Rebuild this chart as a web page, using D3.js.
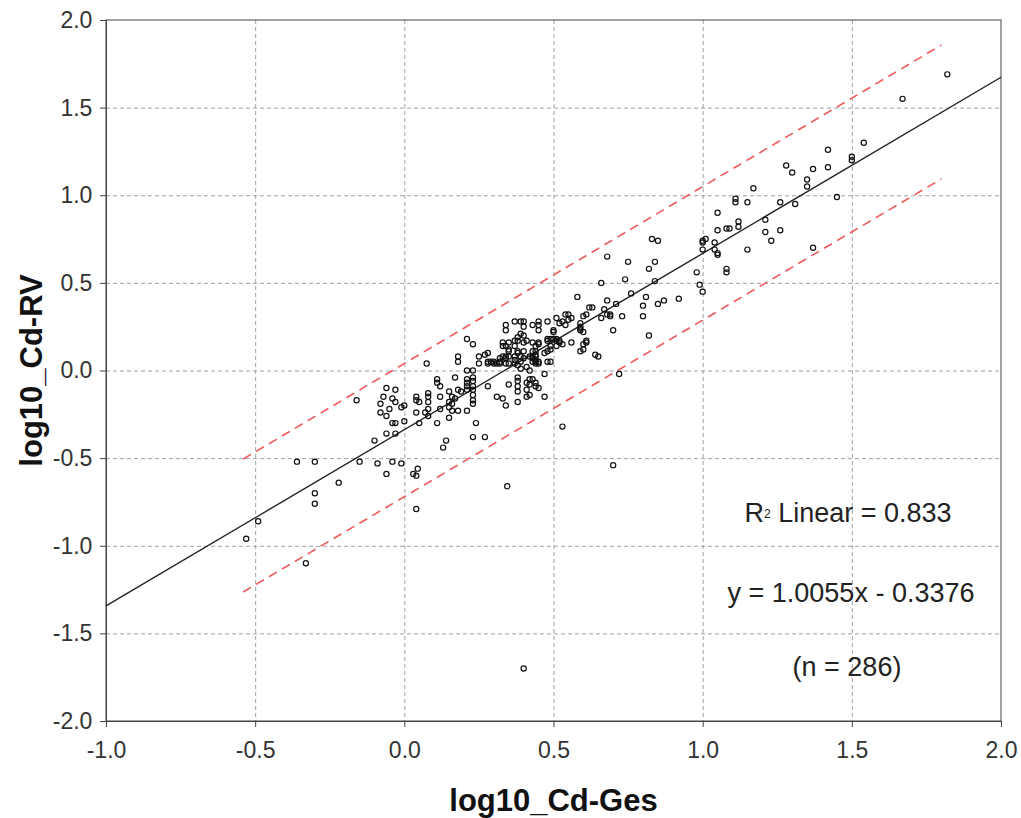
<!DOCTYPE html>
<html>
<head>
<meta charset="utf-8">
<script src="https://cdn.jsdelivr.net/npm/d3@7"></script>
<style>
  body { margin: 0; background: #fff; }
  text { font-family: "Liberation Sans", Arial, sans-serif; }
</style>
</head>
<body>
<div id="chart"></div>
<script>
// tick values on both axes
const xTicks = [-1.0, -0.5, 0.0, 0.5, 1.0, 1.5, 2.0];
const yTicks = [-2.0, -1.5, -1.0, -0.5, 0.0, 0.5, 1.0, 1.5, 2.0];

// fit line and prediction band
const slope = 1.0055;
const intercept = -0.3376;
const bandX = [-0.54, 1.80];
const bandUpper = [-0.505, 1.857];
const bandLower = [-1.264, 1.093];

const notes = ["Linear = 0.833", "y = 1.0055x - 0.3376", "(n = 286)"];

// points [log10_Cd-Ges, log10_Cd-RV]
const ptsNeg = [
  [-0.53,-0.96],[-0.49,-0.86],[-0.36,-0.52],[-0.33,-1.10],[-0.30,-0.52],[-0.30,-0.70],[-0.30,-0.76],
  [-0.22,-0.64],[-0.16,-0.17],[-0.15,-0.52],[-0.10,-0.40],[-0.09,-0.53],[-0.08,-0.24],[-0.08,-0.19],
  [-0.07,-0.15],[-0.06,-0.26],[-0.06,-0.36],[-0.06,-0.10],[-0.06,-0.59],[-0.05,-0.22],[-0.04,-0.30],
  [-0.03,-0.30],[-0.04,-0.52],[-0.04,-0.16],[-0.03,-0.11],[-0.03,-0.18],[-0.03,-0.36],[-0.01,-0.21],
  [-0.01,-0.53],[0.00,-0.20],[0.00,-0.29]
];
const ptsLow = [
  [0.03,-0.59],[0.04,-0.60],[0.045,-0.56],[0.04,-0.79],[0.075,0.04],
  [0.04,-0.15],[0.04,-0.17],[0.05,-0.18],[0.08,-0.13],[0.08,-0.15],[0.08,-0.18],
  [0.11,-0.05],[0.11,-0.07],[0.12,-0.09],[0.15,-0.18],[0.15,-0.21],
  [0.04,-0.24],[0.07,-0.24],[0.08,-0.26],[0.08,-0.22],[0.12,-0.22],[0.11,-0.30],[0.05,-0.30],[0.14,-0.40],
  [0.21,0.18],[0.23,0.15],[0.18,0.08],[0.18,0.05],[0.21,0.0],[0.23,0.0],[0.25,0.04],[0.25,0.08],
  [0.15,-0.12],[0.18,-0.11],[0.19,-0.12],[0.17,-0.04],[0.21,-0.05],[0.21,-0.07],[0.21,-0.09],[0.21,-0.11],
  [0.23,-0.04],[0.23,-0.06],[0.23,-0.09],[0.23,-0.11],[0.23,-0.14],[0.23,-0.17],[0.23,-0.19],
  [0.12,-0.15],[0.16,-0.15],[0.17,-0.16],[0.16,-0.19],[0.16,-0.23],[0.18,-0.23],[0.21,-0.23],
  [0.15,-0.27],[0.24,-0.30],[0.23,-0.38],[0.27,-0.38],[0.13,-0.44]
];
const ptsMid = [
  [0.28,-0.09],[0.31,-0.15],[0.33,-0.16],[0.34,-0.20],[0.35,-0.08],[0.38,-0.09],[0.38,-0.12],[0.38,-0.18],
  [0.42,-0.08],[0.42,-0.05],[0.43,-0.05],[0.44,-0.09],[0.42,-0.14],[0.47,-0.15],[0.47,-0.02],
  [0.38,-0.04],[0.38,-0.06],[0.41,-0.07],[0.41,-0.11],[0.41,-0.15],[0.44,-0.07],[0.45,-0.10],
  [0.34,0.26],[0.34,0.23],[0.37,0.28],[0.40,0.28],[0.45,0.28],[0.45,0.26],[0.45,0.23],[0.43,0.26],[0.48,0.28],
  [0.48,0.17],[0.49,0.14],[0.49,0.12],[0.48,0.11],[0.48,0.05],[0.49,0.05],[0.47,0.10],
  [0.40,0.20],[0.40,0.16],[0.43,0.16],[0.37,0.17],[0.38,0.17],[0.37,0.14],[0.38,0.11],
  [0.33,0.16],[0.33,0.14],[0.34,0.14],[0.35,0.12],[0.44,0.14],[0.44,0.11],[0.43,0.08],[0.42,0.08],
  [0.44,0.08],[0.40,0.07],[0.39,0.08],[0.37,0.08],[0.37,0.04],[0.38,0.03],[0.39,0.01],
  [0.35,0.08],[0.34,0.08],[0.33,0.08],[0.32,0.04],[0.28,0.10],[0.28,0.04],[0.30,0.04],[0.31,0.04],
  [0.41,0.02],[0.42,0.0],[0.44,0.04],[0.45,0.04],
  [0.39,0.28],[0.40,0.25],[0.39,0.21],[0.38,0.19],[0.41,0.17],[0.35,0.16],[0.35,0.11],[0.38,0.10],
  [0.40,0.11],[0.27,0.09],[0.32,0.07],[0.34,0.07],[0.28,0.05],[0.29,0.05],[0.30,0.05],[0.32,0.05],
  [0.34,0.04],[0.35,0.04],[0.37,0.06],[0.39,0.05],
  [0.50,0.22],[0.48,0.18],[0.49,0.18],[0.45,0.16],[0.45,0.15],[0.43,0.11],[0.44,0.09],[0.43,0.07],
  [0.44,0.06],[0.45,0.05],[0.43,0.05],[0.44,0.05]
];
const ptsHigh = [
  [0.53,-0.32],[0.51,0.30],[0.54,0.32],[0.56,0.30],[0.52,0.27],[0.54,0.26],[0.58,0.42],[0.62,0.36],
  [0.63,0.36],[0.61,0.32],[0.66,0.50],[0.68,0.40],[0.71,0.38],[0.67,0.35],[0.66,0.30],[0.69,0.32],
  [0.70,0.23],[0.59,0.27],[0.59,0.25],[0.59,0.23],[0.61,0.16],[0.60,0.15],[0.59,0.11],[0.64,0.09],
  [0.72,-0.02],[0.50,0.23],[0.51,0.18],[0.51,0.17],[0.52,0.16],[0.53,0.15],[0.56,0.16],
  [0.60,0.31],[0.68,0.32],[0.55,0.32],[0.55,0.29],[0.53,0.28],[0.59,0.24],[0.60,0.22],[0.50,0.18],
  [0.52,0.17],[0.61,0.17],[0.60,0.12],[0.51,0.14],
  [0.68,0.65],[0.75,0.62],[0.83,0.75],[0.85,0.74],[0.84,0.62],[0.82,0.58],[0.74,0.52],[0.76,0.44],
  [0.69,0.31],[0.73,0.31],[0.80,0.37],[0.81,0.42],[0.85,0.38],[0.87,0.40],[0.92,0.41],[0.80,0.31],
  [0.84,0.51],[0.82,0.20],[0.65,0.08],[0.98,0.56],[0.99,0.49],[0.70,-0.54],[0.345,-0.66],[0.40,-1.70]
];
const ptsTop = [
  [1.00,0.45],[1.00,0.73],[1.00,0.74],[1.01,0.75],[1.00,0.69],[1.04,0.69],[1.05,0.67],[1.05,0.66],
  [1.04,0.73],[1.05,0.80],[1.05,0.90],[1.08,0.81],[1.09,0.81],[1.08,0.58],[1.08,0.56],[1.12,0.85],
  [1.12,0.82],[1.11,0.96],[1.11,0.98],[1.15,0.96],[1.15,0.69],[1.21,0.86],[1.21,0.79],[1.23,0.74],
  [1.26,0.80],[1.26,0.96],[1.31,0.95],[1.17,1.04],
  [1.82,1.69],[1.67,1.55],[1.54,1.30],[1.42,1.26],[1.50,1.22],[1.50,1.20],[1.28,1.17],[1.30,1.13],
  [1.37,1.15],[1.42,1.16],[1.35,1.09],[1.35,1.05],[1.45,0.99],[1.37,0.70]
];

const points = [...ptsNeg, ...ptsLow, ...ptsMid, ...ptsHigh, ...ptsTop];

const W = 1021, H = 818;
const m = {left: 106, right: 20, top: 20, bottom: 97};

const x = d3.scaleLinear().domain([-1, 2]).range([m.left, W - m.right]);
const y = d3.scaleLinear().domain([-2, 2]).range([H - m.bottom, m.top]);

const svg = d3.select("#chart").append("svg")
  .attr("width", W).attr("height", H);

// grid
const grid = svg.append("g").attr("stroke", "#a0a0a0").attr("stroke-dasharray", "4,3").attr("stroke-width", 1);
grid.selectAll(".gx").data(xTicks.slice(1, -1)).join("line")
  .attr("x1", d => x(d) + 0.5).attr("x2", d => x(d) + 0.5)
  .attr("y1", y(2)).attr("y2", y(-2));
grid.selectAll(".gy").data(yTicks.slice(1, -1)).join("line")
  .attr("y1", d => y(d) + 0.5).attr("y2", d => y(d) + 0.5)
  .attr("x1", x(-1)).attr("x2", x(2));

// axes (plain hyphen for negatives, like the source)
const fmt = d => d.toFixed(1);
const xAxis = svg.append("g").attr("transform", `translate(0,${y(-2)})`)
  .call(d3.axisBottom(x).tickValues(xTicks).tickFormat(fmt).tickSize(6).tickSizeOuter(0));
const yAxis = svg.append("g").attr("transform", `translate(${x(-1)},0)`)
  .call(d3.axisLeft(y).tickValues(yTicks).tickFormat(fmt).tickSize(6).tickSizeOuter(0));
[xAxis, yAxis].forEach(a => {
  a.selectAll("line, path").attr("stroke", "#444");
  a.selectAll("text").attr("font-size", 23).attr("fill", "#333")
    .attr("font-family", "'Liberation Sans', Arial, sans-serif");
});
xAxis.selectAll("text").attr("dy", "1.22em");
yAxis.selectAll("text").attr("dx", "-0.2em");

// frame top/right
svg.append("rect")
  .attr("x", x(-1)).attr("y", y(2))
  .attr("width", x(2) - x(-1)).attr("height", y(-2) - y(2))
  .attr("fill", "none").attr("stroke", "#444");

// prediction band
const bandLine = d3.line().x(d => x(d[0])).y(d => y(d[1]));
[bandUpper, bandLower].forEach(b => {
  svg.append("path")
    .attr("d", bandLine(bandX.map((v, i) => [v, b[i]])))
    .attr("fill", "none").attr("stroke", "#f0585a").attr("stroke-width", 1.6)
    .attr("stroke-dasharray", "9,6");
});

// fit line
svg.append("path")
  .attr("d", bandLine([-1, 2].map(v => [v, slope * v + intercept])))
  .attr("stroke", "#222").attr("stroke-width", 1.4).attr("fill", "none");

// points
svg.append("g").selectAll("circle").data(points).join("circle")
  .attr("cx", d => x(d[0])).attr("cy", d => y(d[1]))
  .attr("r", 2.6).attr("fill", "none").attr("stroke", "#111").attr("stroke-width", 1.2);

// notes
const nt = svg.append("g").attr("font-size", 27).attr("fill", "#222").attr("text-anchor", "middle");
const r2 = nt.append("text").attr("x", 848).attr("y", 522);
r2.append("tspan").text("R");
r2.append("tspan").attr("font-size", 12).attr("dy", -4).text("2");
r2.append("tspan").attr("dy", 4).text(" " + notes[0]);
nt.append("text").attr("x", 851).attr("y", 602).text(notes[1]);
nt.append("text").attr("x", 847).attr("y", 676).text(notes[2]);

// axis titles
svg.append("text").attr("x", (x(-1) + x(2)) / 2).attr("y", 811)
  .attr("text-anchor", "middle").attr("font-size", 31).attr("font-weight", "bold").attr("fill", "#111")
  .text("log10_Cd-Ges");
svg.append("text").attr("transform", `translate(42,${y(0)}) rotate(-90)`)
  .attr("text-anchor", "middle").attr("font-size", 31).attr("font-weight", "bold").attr("fill", "#111")
  .text("log10_Cd-RV");
</script>
</body>
</html>
